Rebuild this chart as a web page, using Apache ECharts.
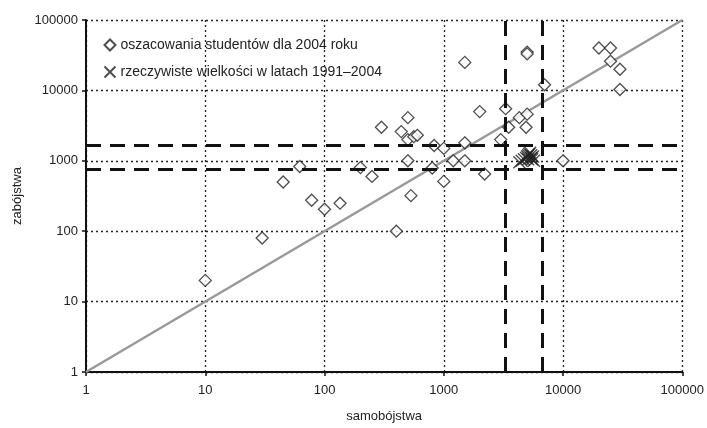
<!DOCTYPE html>
<html>
<head>
    <meta charset="utf-8">
    <title>samobójstwa / zabójstwa</title>
    <script src="https://cdn.jsdelivr.net/npm/echarts@6/dist/echarts.min.js"></script>
    <style>
        body { margin: 0; background: #fff; }
        #main { width: 707px; height: 428px; }
    </style>
</head>
<body>
<div id="main"></div>
<script>
    // szacunki studentów (samobójstwa, zabójstwa)
    var estX = [10, 30, 45, 62, 78, 100, 135, 200, 250, 300, 400, 440, 500, 500, 500, 530, 560, 600,
                800, 830, 1000, 1000, 1200, 1500, 1500, 1500, 2000, 2200, 3000, 3300, 3500, 4300,
                4900, 5000, 5000, 5000, 7000, 10000, 20000, 25000, 25000, 30000, 30000];
    var estY = [20, 80, 500, 830, 275, 205, 250, 800, 600, 3000, 100, 2600, 4100, 2000, 1000, 320, 2200, 2300,
                790, 1650, 1500, 510, 1000, 1800, 1000, 25000, 5000, 650, 2000, 5500, 3000, 4100,
                3000, 4600, 35000, 33000, 12000, 1000, 40000, 40000, 26000, 20000, 10300];
    // dane rzeczywiste 1991-2004
    var realX = [4300, 4500, 4700, 4900, 5000, 5100, 5200, 5300, 5400, 5500, 5600, 5700, 5100, 5400];
    var realY = [950, 1000, 1050, 1100, 1150, 1200, 1250, 1300, 1100, 1050, 1150, 1000, 1050, 1200];
    var dashX = [3270, 6680];
    var dashY = [770, 1640];
    var diag = [1, 100000];

    var crossPath = 'path://M0,0L10,10M10,0L0,10';

    var estData = estX.map(function (x, i) { return [x, estY[i]]; });
    var realData = realX.map(function (x, i) { return [x, realY[i]]; });

    var marks = [];
    dashX.forEach(function (v) { marks.push({ xAxis: v }); });
    dashY.forEach(function (v) { marks.push({ yAxis: v }); });

    var axisCommon = {
        type: 'log',
        logBase: 10,
        min: 1,
        max: 100000,
        axisLine: { lineStyle: { color: '#111', width: 2 } },
        axisTick: { length: 4, lineStyle: { color: '#111', width: 1.5 } },
        axisLabel: {
            color: '#222', fontSize: 13, fontFamily: 'Liberation Sans',
            formatter: function (v) { return String(Math.round(v)); }
        },
        splitLine: { show: true, lineStyle: { color: '#222', type: [2, 3], width: 1.3 } },
        nameTextStyle: { color: '#222', fontSize: 13, fontFamily: 'Liberation Sans' }
    };

    var myChart = echarts.init(document.getElementById('main'), null, { renderer: 'canvas' });
    var option = {
        animation: false,
        grid: { left: 86, right: 21, top: 20, bottom: 53 },
        legend: {
            orient: 'vertical',
            left: 97,
            top: 33,
            itemWidth: 11,
            itemHeight: 11,
            itemGap: 12,
            textStyle: { color: '#222', fontSize: 14, fontFamily: 'Liberation Sans' },
            data: ['oszacowania studentów dla 2004 roku', 'rzeczywiste wielkości w latach 1991–2004']
        },
        xAxis: echarts.util.merge({
            name: 'samobójstwa', nameLocation: 'middle', nameGap: 38,
            axisLabel: { margin: 12 }
        }, axisCommon, true),
        yAxis: echarts.util.merge({
            name: 'zabójstwa', nameLocation: 'middle', nameGap: 60,
            axisLabel: { margin: 8 }
        }, axisCommon, true),
        series: [
            {
                type: 'line',
                data: [[diag[0], diag[0]], [diag[1], diag[1]]],
                symbol: 'none',
                silent: true,
                z: 1,
                lineStyle: { color: '#999', width: 2.5 }
            },
            {
                type: 'line',
                data: [],
                z: 2,
                markLine: {
                    silent: true,
                    symbol: 'none',
                    label: { show: false },
                    lineStyle: { color: '#111', width: 3, type: [15, 9] },
                    data: marks
                }
            },
            {
                name: 'oszacowania studentów dla 2004 roku',
                type: 'scatter',
                symbol: 'diamond',
                symbolSize: 12,
                z: 3,
                itemStyle: { color: '#fff', borderColor: '#222', borderWidth: 1.3 },
                data: estData
            },
            {
                name: 'rzeczywiste wielkości w latach 1991–2004',
                type: 'scatter',
                symbol: crossPath,
                symbolSize: 12,
                z: 4,
                itemStyle: { color: 'none', borderColor: '#222', borderWidth: 1.4 },
                data: realData
            }
        ]
    };
    myChart.setOption(option);
</script>
</body>
</html>
